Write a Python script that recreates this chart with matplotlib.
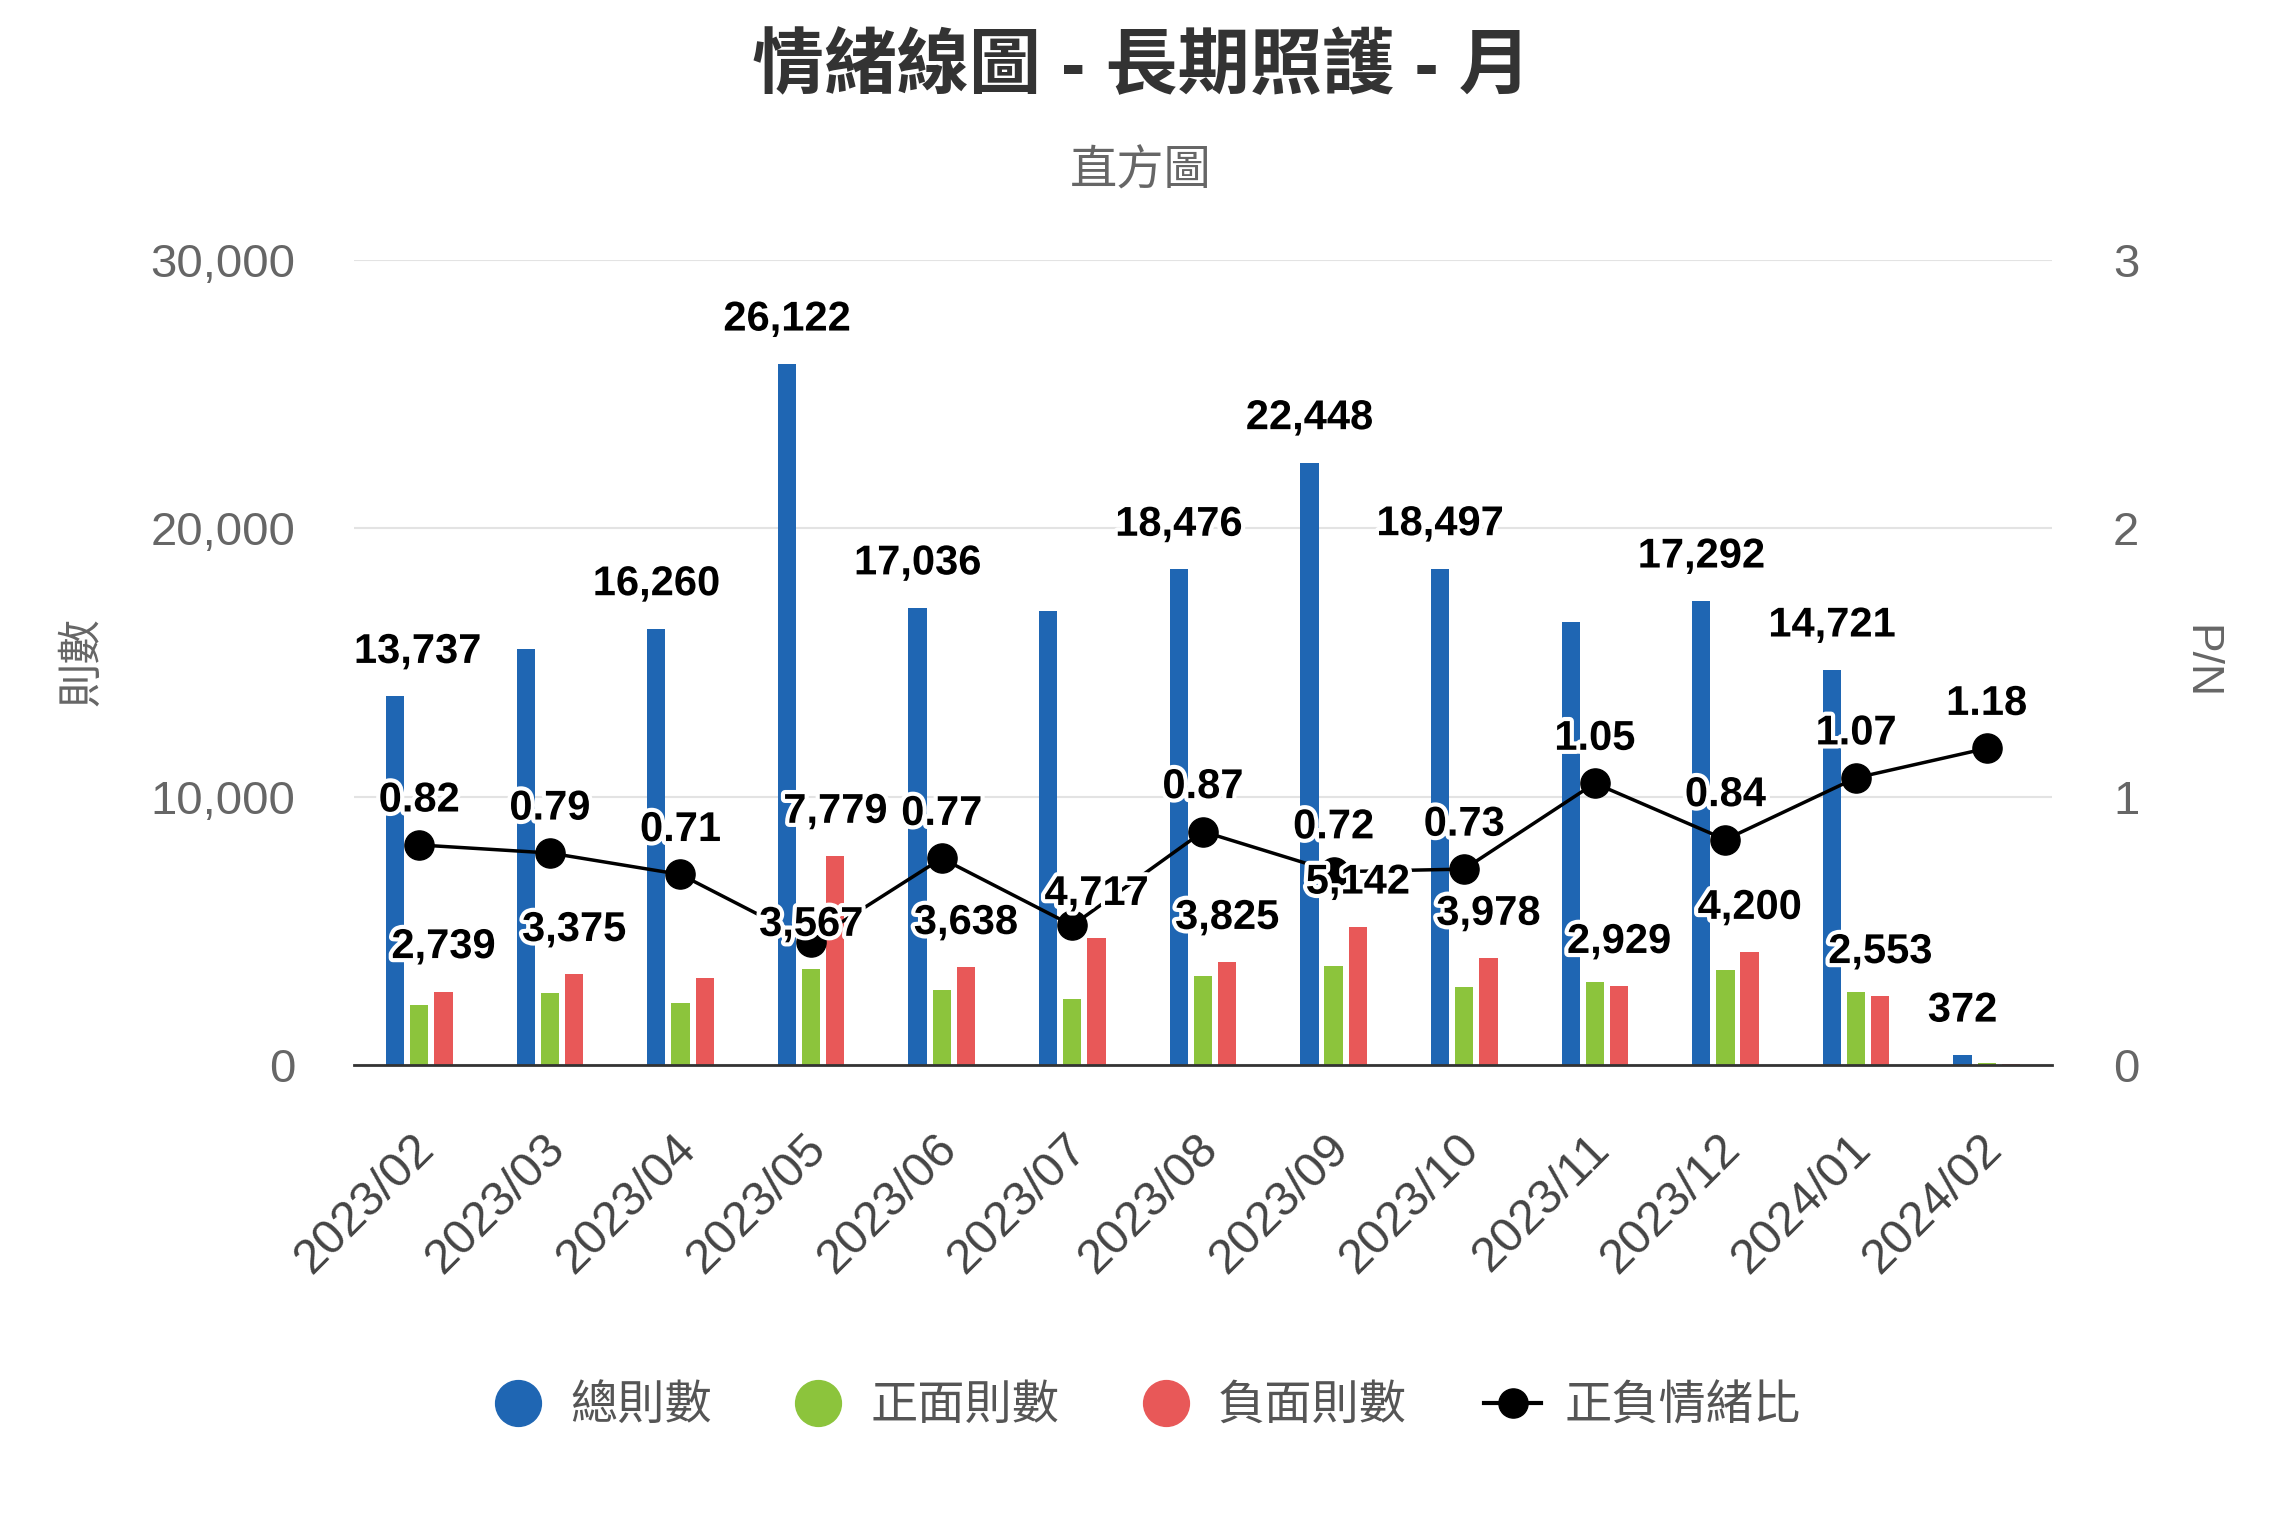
import numpy as np
import matplotlib.pyplot as plt
import matplotlib.patheffects as pe
from matplotlib.lines import Line2D
from matplotlib.ticker import FuncFormatter
from matplotlib.transforms import ScaledTranslation

plt.rcParams['font.family'] = ['Liberation Sans', 'Noto Sans CJK TC']

# --- data ---
months = ['2023/02', '2023/03', '2023/04', '2023/05', '2023/06', '2023/07', '2023/08',
          '2023/09', '2023/10', '2023/11', '2023/12', '2024/01', '2024/02']
total = [13737, 15500, 16260, 26122, 17036, 16900, 18476, 22448, 18497, 16500, 17292, 14721, 372]
positive = [2246, 2666, 2300, 3567, 2801, 2450, 3328, 3702, 2904, 3075, 3528, 2732, 59]
negative = [2739, 3375, 3240, 7779, 3638, 4717, 3825, 5142, 3978, 2929, 4200, 2553, 50]
ratio = [0.82, 0.79, 0.71, 0.46, 0.77, 0.52, 0.87, 0.72, 0.73, 1.05, 0.84, 1.07, 1.18]

# which data labels are visible in the reference (others hidden by overlap)
total_shown = [1, 0, 1, 1, 1, 0, 1, 1, 1, 0, 1, 1, 1]
positive_shown = [0, 0, 0, 1, 0, 0, 0, 0, 0, 0, 0, 0, 0]
negative_shown = [1, 1, 0, 1, 1, 1, 1, 1, 1, 1, 1, 1, 0]
ratio_shown = [1, 1, 1, 0, 1, 0, 1, 1, 1, 1, 1, 1, 1]

series_names = ['總則數', '正面則數', '負面則數', '正負情緒比']
BLUE, GREEN, RED = '#1f66b3', '#8cc43c', '#e85858'

fig = plt.figure(figsize=(22.82, 15.21), dpi=100)
ax = fig.add_axes([0.1551, 0.2998, 0.7441, 0.5293])
ax2 = ax.twinx()

x = np.arange(len(months))
w = 0.14
off = 0.185
ax.bar(x - off, total, w, color=BLUE, zorder=2)
ax.bar(x, positive, w, color=GREEN, zorder=2)
ax.bar(x + off, negative, w, color=RED, zorder=2)

ax.set_xlim(-0.5, len(months) - 0.5)
ax.set_ylim(0, 30000)
ax.set_yticks([0, 10000, 20000, 30000])
ax.yaxis.set_major_formatter(FuncFormatter(lambda v, p: f'{int(v):,}'))
ax.grid(axis='y', color='#e3e3e3', linewidth=1.5)
ax.set_axisbelow(True)
for s in ['top', 'left', 'right']:
    ax.spines[s].set_visible(False)
ax.spines['bottom'].set_color('#333333')
ax.spines['bottom'].set_linewidth(2)
ax.tick_params(axis='y', length=0, pad=42, labelsize=34, labelcolor='#666666')
ax.tick_params(axis='x', length=0, pad=44, labelsize=35, labelcolor='#444444')
ax.set_xticks(x)
ax.set_xticklabels(months, rotation=45, ha='right', va='top', rotation_mode='anchor')
for lab in ax.get_xticklabels():
    lab.set_transform(lab.get_transform() + ScaledTranslation(-5.5 / 72, 0, fig.dpi_scale_trans))

# ratio line on right axis
ax2.plot(x, ratio, color='black', linewidth=2.5, marker='o', markersize=21, zorder=3)
ax2.set_ylim(0, 3)
ax2.set_yticks([0, 1, 2, 3])
for s in ax2.spines.values():
    s.set_visible(False)
ax2.tick_params(axis='y', length=0, pad=44, labelsize=34, labelcolor='#666666')

# data labels, all drawn on top axis so they sit above the line
stroke = [pe.withStroke(linewidth=6, foreground='white')]


def put_label(xv, yv, text, trans, ha='center'):
    ax2.annotate(text, (xv, yv), xycoords=trans, xytext=(0, 32), textcoords='offset points',
                 ha=ha, va='center', fontsize=30, fontweight='bold', color='black',
                 path_effects=stroke, zorder=6, annotation_clip=False)


for i in range(len(months)):
    if total_shown[i]:
        if i == 0:
            # label pushed inside the plot area
            put_label(-0.5, total[i], f'{total[i]:,}', ax.transData, ha='left')
        else:
            put_label(i - off, total[i], f'{total[i]:,}', ax.transData)
    if positive_shown[i]:
        put_label(i, positive[i], f'{positive[i]:,}', ax.transData)
    if negative_shown[i]:
        put_label(i + off, negative[i], f'{negative[i]:,}', ax.transData)
    if ratio_shown[i]:
        put_label(i, ratio[i], f'{ratio[i]:.2f}', ax2.transData)

# titles and axis titles
fig.text(0.5, 0.955, '情緒線圖 - 長期照護 - 月', ha='center', va='center',
         fontsize=52, fontweight='bold', color='#333333')
fig.text(0.5, 0.887, '直方圖', ha='center', va='center', fontsize=34, color='#666666')
fig.text(0.0364, 0.5648, '則數', ha='center', va='center', rotation=90, fontsize=32, color='#666666')
fig.text(0.964, 0.5648, 'P/N', ha='center', va='center', rotation=270, fontsize=32, color='#666666')

handles = [
    Line2D([], [], linestyle='none', marker='o', markersize=33, color=BLUE),
    Line2D([], [], linestyle='none', marker='o', markersize=33, color=GREEN),
    Line2D([], [], linestyle='none', marker='o', markersize=33, color=RED),
    Line2D([], [], color='black', linewidth=3, marker='o', markersize=21),
]
fig.legend(handles, series_names, loc='center', bbox_to_anchor=(0.502, 0.075), ncol=4,
           frameon=False, fontsize=34, handlelength=1.2, handletextpad=0.5,
           columnspacing=1.65, labelcolor='#555555')

fig.savefig('out.png', dpi=100)
